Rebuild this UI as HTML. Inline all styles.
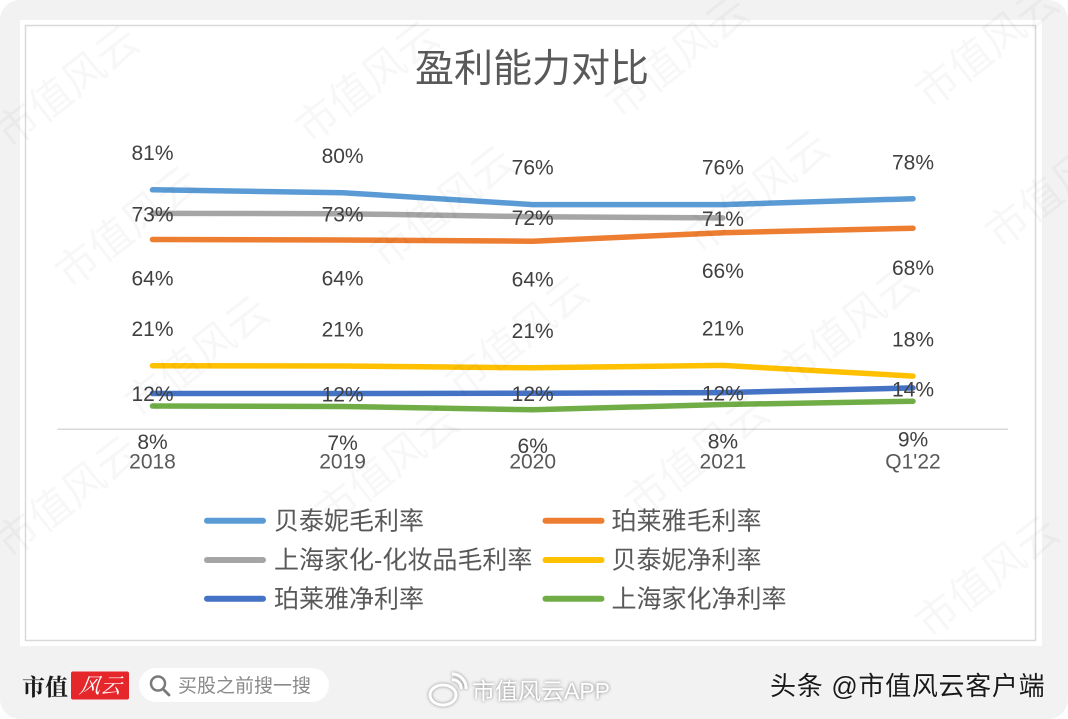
<!DOCTYPE html>
<html>
<head>
<meta charset="utf-8">
<style>
  html,body{margin:0;padding:0;background:#ffffff;}
  body{width:1068px;height:719px;overflow:hidden;}
  svg{display:block;}
  .lbl{font-family:"Liberation Sans","Noto Sans CJK SC",sans-serif;font-size:21px;fill:#404040;}
  .cat{font-family:"Liberation Sans","Noto Sans CJK SC",sans-serif;font-size:21px;fill:#595959;}
  .leg{font-family:"Liberation Sans","Noto Sans CJK SC",sans-serif;font-size:25px;fill:#595959;}
  .wm{font-family:"Liberation Sans","Noto Sans CJK SC",sans-serif;font-size:42px;fill:#000;fill-opacity:0.03;}
</style>
</head>
<body>
<svg width="1068" height="719" viewBox="0 0 1068 719" xmlns="http://www.w3.org/2000/svg">
  <!-- outer gray card -->
  <rect x="0" y="0" width="1068" height="719" rx="20" ry="20" fill="#f2f2f2"/>
  <!-- white chart panel -->
  <rect x="20" y="20" width="1022" height="626" fill="#ffffff"/>
  <rect x="25.5" y="25.5" width="1010" height="615" fill="none" stroke="#d9d9d9" stroke-width="1.5"/>

  <!-- title -->
  <text x="532" y="82" text-anchor="middle" font-family="'Liberation Sans','Noto Sans CJK SC',sans-serif" font-size="39" fill="#595959">盈利能力对比</text>

  <!-- axis line -->
  <line x1="57.5" y1="429.3" x2="1008" y2="429.3" stroke="#d9d9d9" stroke-width="1.5"/>

  <!-- series lines -->
  <g fill="none" stroke-width="5.5" stroke-linecap="round" stroke-linejoin="round">
    <polyline stroke="#5b9bd5" points="152.5,189.8 342.6,192.7 532.7,204.6 722.9,204.6 913,198.7"/>
    <polyline stroke="#a5a5a5" points="152.5,213.4 342.6,213.7 532.7,216.7 722.9,217.9"/>
    <polyline stroke="#ed7d31" points="152.5,239.5 342.6,240.0 532.7,241.2 722.9,232.7 913,228.2"/>
    <polyline stroke="#ffc000" points="152.5,365.7 342.6,366.0 532.7,367.8 722.9,365.4 913,376.1"/>
    <polyline stroke="#4472c4" points="152.5,393.5 342.6,393.5 532.7,393.2 722.9,392.6 913,387.9"/>
    <polyline stroke="#70ad47" points="152.5,406.0 342.6,406.5 532.7,409.8 722.9,404.5 913,401.2"/>
  </g>

  <!-- data labels -->
  <g class="lbl" text-anchor="middle">
    <text x="152.5" y="160">81%</text>
    <text x="342.6" y="163">80%</text>
    <text x="532.7" y="174.5">76%</text>
    <text x="722.9" y="174.5">76%</text>
    <text x="913" y="169.5">78%</text>
    <text x="152.5" y="221.5">73%</text>
    <text x="342.6" y="221.5">73%</text>
    <text x="532.7" y="225">72%</text>
    <text x="722.9" y="226">71%</text>
    <text x="152.5" y="285.5">64%</text>
    <text x="342.6" y="285.5">64%</text>
    <text x="532.7" y="286.5">64%</text>
    <text x="722.9" y="278">66%</text>
    <text x="913" y="275">68%</text>
    <text x="152.5" y="336">21%</text>
    <text x="342.6" y="336.5">21%</text>
    <text x="532.7" y="338">21%</text>
    <text x="722.9" y="335.5">21%</text>
    <text x="913" y="346.5">18%</text>
    <text x="152.5" y="401">12%</text>
    <text x="342.6" y="401.5">12%</text>
    <text x="532.7" y="401">12%</text>
    <text x="722.9" y="400.5">12%</text>
    <text x="913" y="396.5">14%</text>
    <text x="152.5" y="449">8%</text>
    <text x="342.6" y="450">7%</text>
    <text x="532.7" y="453">6%</text>
    <text x="722.9" y="448.5">8%</text>
    <text x="913" y="446.5">9%</text>
  </g>

  <!-- category labels -->
  <g class="cat" text-anchor="middle">
    <text x="152.5" y="468.5">2018</text>
    <text x="342.6" y="468.5">2019</text>
    <text x="532.7" y="468.5">2020</text>
    <text x="722.9" y="468.5">2021</text>
    <text x="913" y="468.5">Q1'22</text>
  </g>

  <!-- legend -->
  <g stroke-width="6" stroke-linecap="round">
    <line x1="207" y1="520.7" x2="263" y2="520.7" stroke="#5b9bd5"/>
    <line x1="207" y1="560" x2="263" y2="560" stroke="#a5a5a5"/>
    <line x1="207" y1="598.7" x2="263" y2="598.7" stroke="#4472c4"/>
    <line x1="545.5" y1="520.7" x2="601.5" y2="520.7" stroke="#ed7d31"/>
    <line x1="545.5" y1="560" x2="601.5" y2="560" stroke="#ffc000"/>
    <line x1="545.5" y1="598.7" x2="601.5" y2="598.7" stroke="#70ad47"/>
  </g>
  <g class="leg">
    <text x="274" y="529.5">贝泰妮毛利率</text>
    <text x="274" y="568.5">上海家化-化妆品毛利率</text>
    <text x="274" y="607.5">珀莱雅净利率</text>
    <text x="611.5" y="529.5">珀莱雅毛利率</text>
    <text x="611.5" y="568.5">贝泰妮净利率</text>
    <text x="611.5" y="607.5">上海家化净利率</text>
  </g>

  <!-- faint watermarks -->
  <g class="wm">
    <text transform="translate(10,150) rotate(-38)">市值风云</text>
    <text transform="translate(310,145) rotate(-38)">市值风云</text>
    <text transform="translate(620,120) rotate(-38)">市值风云</text>
    <text transform="translate(930,110) rotate(-38)">市值风云</text>
    <text transform="translate(70,290) rotate(-38)">市值风云</text>
    <text transform="translate(385,270) rotate(-38)">市值风云</text>
    <text transform="translate(700,255) rotate(-38)">市值风云</text>
    <text transform="translate(1000,250) rotate(-38)">市值风云</text>
    <text transform="translate(140,420) rotate(-38)">市值风云</text>
    <text transform="translate(460,400) rotate(-38)">市值风云</text>
    <text transform="translate(790,390) rotate(-38)">市值风云</text>
    <text transform="translate(10,560) rotate(-38)">市值风云</text>
    <text transform="translate(330,530) rotate(-38)">市值风云</text>
    <text transform="translate(640,520) rotate(-38)">市值风云</text>
    <text transform="translate(930,640) rotate(-38)">市值风云</text>
  </g>

  <!-- footer -->
  <text x="22" y="695" font-family="'Liberation Serif','Noto Serif CJK SC',serif" font-weight="bold" font-size="23" fill="#1a1a1a">市值</text>
  <rect x="71" y="671.5" width="58" height="28" rx="2" fill="#e5262b"/>
  <text x="100" y="693" text-anchor="middle" font-family="'Liberation Serif','Noto Serif CJK SC',serif" font-style="italic" font-size="21" fill="#ffffff" transform="skewX(-8) translate(97,0)">风云</text>

  <rect x="139" y="668" width="190" height="34" rx="17" fill="#ffffff"/>
  <circle cx="158" cy="683.5" r="7" fill="none" stroke="#7a7a7a" stroke-width="2.5"/>
  <line x1="163" y1="689" x2="169" y2="695" stroke="#7a7a7a" stroke-width="2.8" stroke-linecap="round"/>
  <text x="178" y="692" font-family="'Liberation Sans','Noto Sans CJK SC',sans-serif" font-size="19" fill="#8a8a8a">买股之前搜一搜</text>

  <!-- weibo watermark -->
  <g fill="none" stroke="#ffffff" stroke-width="3" style="filter:drop-shadow(0 0 1.5px #8a8a8a)">
    <ellipse cx="443" cy="695" rx="13" ry="10"/>
    <path d="M452 680 a8 8 0 0 1 9 9"/>
    <path d="M452 674 a14 14 0 0 1 14 15"/>
  </g>
  <text x="472" y="699" font-family="'Liberation Sans','Noto Sans CJK SC',sans-serif" font-size="23" fill="#ffffff" style="filter:drop-shadow(0 0 1.5px #7a7a7a)">市值风云APP</text>

  <text x="770" y="695" font-family="'Liberation Sans','Noto Sans CJK SC',sans-serif" font-size="26" fill="#1a1a1a" letter-spacing="0.7" style="filter:drop-shadow(0 0 1px #ffffff)">头条 @市值风云客户端</text>
</svg>
</body>
</html>
